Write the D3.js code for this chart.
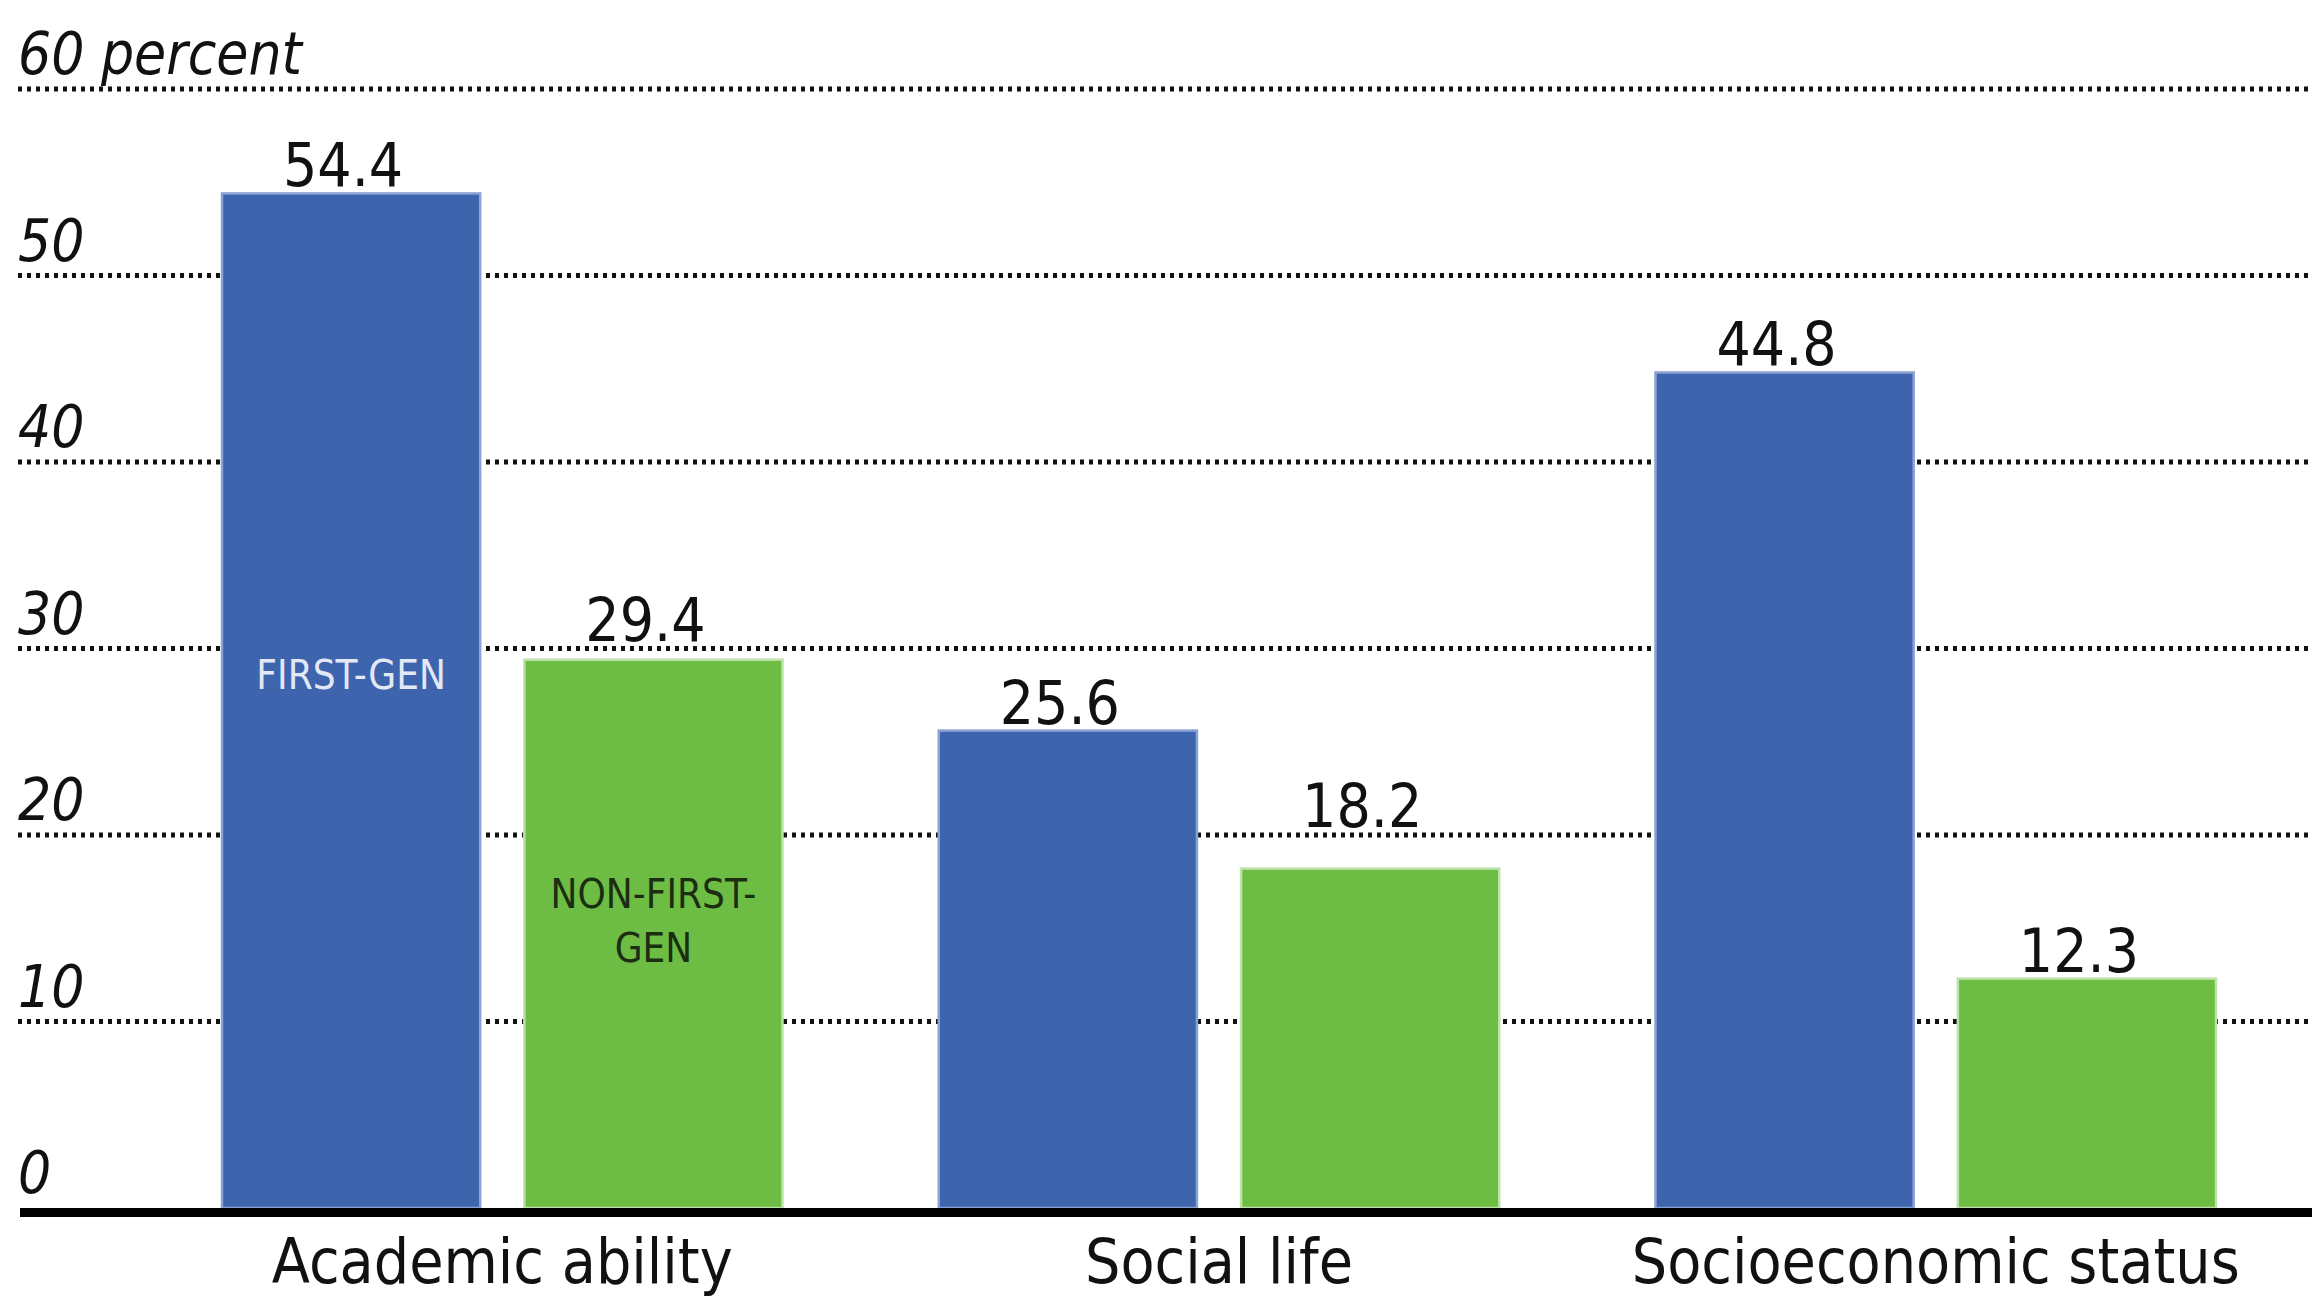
<!doctype html>
<html lang="en">
<head>
  <meta charset="utf-8">
  <title>First-gen vs non-first-gen</title>
  <style>
    body {
      margin: 0;
      background: #fff;
      overflow: hidden;
    }
    svg {
      display: block;
      font-family: "Liberation Sans Narrow", "DejaVu Sans Condensed", "Noto Sans", sans-serif;
    }
    .grid line {
      stroke: #111;
      stroke-width: 5px;
      stroke-dasharray: 4 5;
    }
    .tick-label {
      font-style: italic;
      font-size: 58px;
      fill: #111;
    }
    .value {
      font-size: 60px;
      fill: #111;
    }
    .cat {
      font-size: 62px;
      fill: #111;
    }
    .series-label {
      font-size: 40px;
    }
  </style>
</head>
<body>
  <svg id="chart" width="2312" height="1299"></svg>

  <script src="https://d3js.org/d3.v7.min.js"></script>
  <script>
    // data
    var categories = ["Academic ability", "Social life", "Socioeconomic status"]
    var series = ["First-gen", "Non-first-gen"]
    var firstGen = [54.4, 25.6, 44.8]
    var nonFirstGen = [29.4, 18.2, 12.3]
    var seriesLabels = [["FIRST-GEN"], ["NON-FIRST-", "GEN"]]
    var yTicks = [0, 10, 20, 30, 40, 50, 60]
    var tickLabels = ["0", "10", "20", "30", "40", "50", "60 percent"]

    var colors = ["#3e64ae", "#6dbd45"]
    var edgeColors = ["#8ba3d4", "#bfe2ab"]
    var labelColors = ["#e2e8f4", "#1c2e12"]

    var width = 2312, height = 1299
    var svg = d3.select("#chart")

    var x0 = d3.scaleBand()
      .domain(categories)
      .range([222, 2216])
      .paddingInner(0.218)
      .paddingOuter(0)

    var x1 = d3.scaleBand()
      .domain(series)
      .range([0, x0.bandwidth()])
      .paddingInner(0.146)

    var y = d3.scaleLinear()
      .domain([0, 60])
      .range([1208, 89])

    var rows = categories.map(function(c, i) {
      return {cat: c, values: [firstGen[i], nonFirstGen[i]]}
    })

    // dotted gridlines (0 is the solid baseline)
    svg.append("g").attr("class", "grid")
      .selectAll("line")
      .data(yTicks.filter(function(d) { return d > 0 }))
      .enter().append("line")
      .attr("x1", 18)
      .attr("x2", width)
      .attr("y1", function(d) { return y(d) })
      .attr("y2", function(d) { return y(d) })

    // tick labels sit above their lines, flush left
    svg.append("g")
      .selectAll("text")
      .data(yTicks)
      .enter().append("text")
      .attr("class", "tick-label")
      .attr("x", 18)
      .attr("y", function(d) { return y(d) - 15 })
      .text(function(d, i) { return tickLabels[i] })

    var groups = svg.append("g")
      .selectAll("g")
      .data(rows)
      .enter().append("g")
      .attr("transform", function(d) { return "translate(" + x0(d.cat) + ",0)" })

    groups.selectAll("rect")
      .data(function(d) { return d.values })
      .enter().append("rect")
      .attr("x", function(d, i) { return x1(series[i]) })
      .attr("y", function(d) { return y(d) })
      .attr("width", x1.bandwidth())
      .attr("height", function(d) { return y(0) - y(d) })
      .attr("fill", function(d, i) { return colors[i] })
      .attr("stroke", function(d, i) { return edgeColors[i] })
      .attr("stroke-width", 2.5)

    // value labels; nudge above a gridline when they would sit on it
    var gridYs = yTicks.filter(function(d) { return d > 0 }).map(y)
    function labelBase(v) {
      var b = y(v) - 7
      gridYs.forEach(function(g) {
        if (g > b - 50 && g < b + 4) b = g - 8
      })
      return b
    }

    groups.selectAll("text.value")
      .data(function(d) { return d.values })
      .enter().append("text")
      .attr("class", "value")
      .attr("text-anchor", "middle")
      .attr("x", function(d, i) { return x1(series[i]) + x1.bandwidth() / 2 - 8 })
      .attr("y", labelBase)
      .text(function(d) { return d.toFixed(1) })

    // series names inside the first group's bars
    var first = rows[0]
    svg.append("g")
      .selectAll("text")
      .data(series)
      .enter().append("text")
      .attr("class", "series-label")
      .attr("text-anchor", "middle")
      .attr("fill", function(d, i) { return labelColors[i] })
      .attr("transform", function(d, i) {
        var cx = x0(first.cat) + x1(d) + x1.bandwidth() / 2
        var cy = y(first.values[i] / 2)
        var n = seriesLabels[i].length
        return "translate(" + cx + "," + (cy - 12 - (n - 1) * 14) + ")"
      })
      .each(function(d, i) {
        d3.select(this).selectAll("tspan")
          .data(seriesLabels[i])
          .enter().append("tspan")
          .attr("x", 0)
          .attr("dy", function(t, j) { return j ? 54 : 0 })
          .text(function(t) { return t })
      })

    // solid baseline
    svg.append("line")
      .attr("x1", 20)
      .attr("x2", width)
      .attr("y1", y(0) + 4.5)
      .attr("y2", y(0) + 4.5)
      .attr("stroke", "#000")
      .attr("stroke-width", 9)

    // category labels
    svg.append("g")
      .selectAll("text")
      .data(categories)
      .enter().append("text")
      .attr("class", "cat")
      .attr("text-anchor", "middle")
      .attr("x", function(d) { return x0(d) + x0.bandwidth() / 2 })
      .attr("y", 1283)
      .text(function(d) { return d })
  </script>
</body>
</html>
